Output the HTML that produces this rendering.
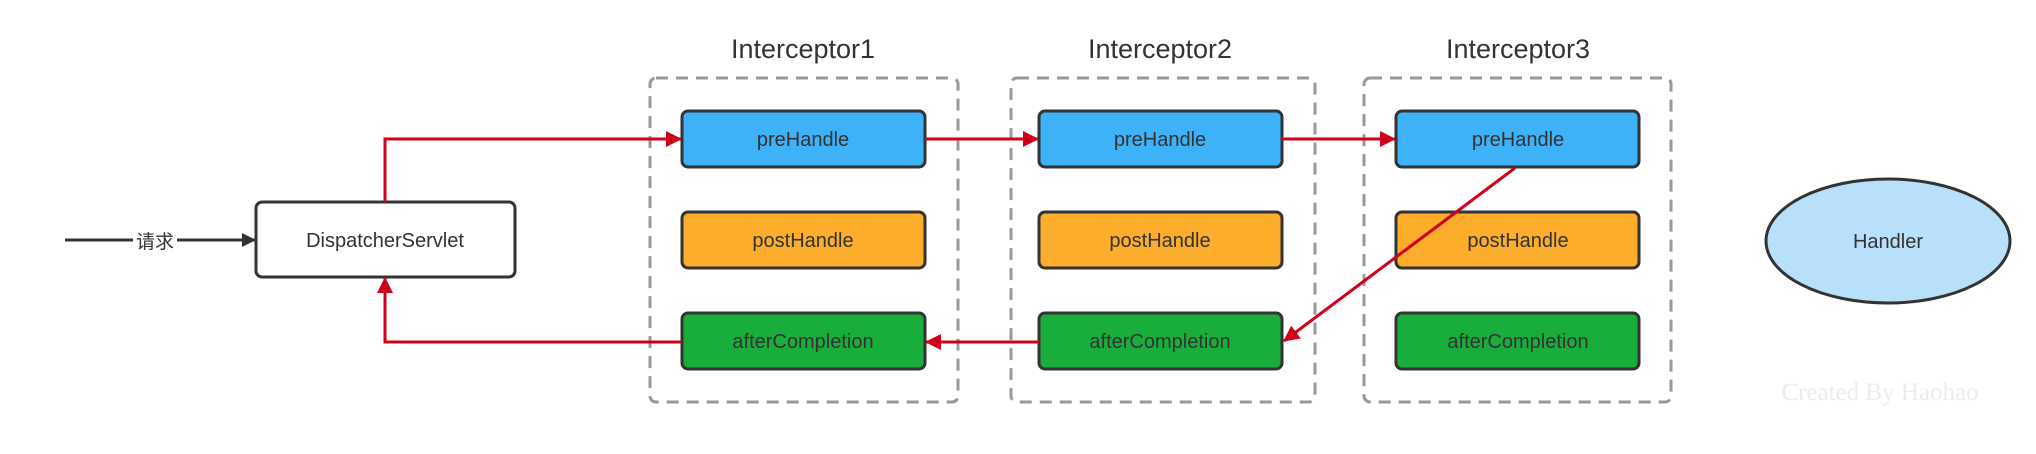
<!DOCTYPE html>
<html><head><meta charset="utf-8"><style>
html,body{margin:0;padding:0;background:#fff;}
svg{display:block;}
text{font-family:"Liberation Sans","Noto Sans CJK SC",sans-serif;}
</style></head><body>
<svg width="2036" height="454" viewBox="0 0 2036 454" xmlns="http://www.w3.org/2000/svg">
<defs>
<marker id="k" markerWidth="14" markerHeight="14" refX="13" refY="7" orient="auto" markerUnits="userSpaceOnUse"><path d="M0,0 L14,7 L0,14 z" fill="#333"/></marker>
<marker id="r2" markerWidth="16" markerHeight="16" refX="15" refY="8" orient="auto" markerUnits="userSpaceOnUse"><path d="M0,0 L16,8 L0,16 z" fill="#d0021b"/></marker>
</defs>
<g font-size="27" fill="#333" text-anchor="middle">
<text x="803" y="58">Interceptor1</text>
<text x="1160" y="58">Interceptor2</text>
<text x="1518" y="58">Interceptor3</text>
</g>
<g fill="none" stroke="#999" stroke-width="3" stroke-dasharray="12,8">
<rect x="650" y="78" width="308" height="324" rx="6"/>
<rect x="1011" y="78" width="304" height="324" rx="6"/>
<rect x="1364" y="78" width="307" height="324" rx="6"/>
</g>
<g stroke="#333" stroke-width="3">
<rect x="682" y="111" width="243" height="56" rx="6" fill="#3db2f8"/>
<rect x="1039" y="111" width="243" height="56" rx="6" fill="#3db2f8"/>
<rect x="1396" y="111" width="243" height="56" rx="6" fill="#3db2f8"/>
<rect x="682" y="212" width="243" height="56" rx="6" fill="#fdad2c"/>
<rect x="1039" y="212" width="243" height="56" rx="6" fill="#fdad2c"/>
<rect x="1396" y="212" width="243" height="56" rx="6" fill="#fdad2c"/>
<rect x="682" y="313" width="243" height="56" rx="6" fill="#19ae3c"/>
<rect x="1039" y="313" width="243" height="56" rx="6" fill="#19ae3c"/>
<rect x="1396" y="313" width="243" height="56" rx="6" fill="#19ae3c"/>
<rect x="256" y="202" width="259" height="75" rx="6" fill="#fff"/>
<ellipse cx="1888" cy="241" rx="122" ry="62" fill="#b9e0fb"/>
</g>
<g font-size="20" fill="#333" text-anchor="middle">
<text x="803" y="146">preHandle</text><text x="1160" y="146">preHandle</text><text x="1518" y="146">preHandle</text>
<text x="803" y="247">postHandle</text><text x="1160" y="247">postHandle</text><text x="1518" y="247">postHandle</text>
<text x="803" y="348">afterCompletion</text><text x="1160" y="348">afterCompletion</text><text x="1518" y="348">afterCompletion</text>
<text x="385" y="247">DispatcherServlet</text>
<text x="1888" y="248">Handler</text>
</g>
<line x1="65" y1="240" x2="255" y2="240" stroke="#333" stroke-width="3" marker-end="url(#k)"/>
<rect x="133" y="228" width="44" height="24" fill="#fff"/>
<text x="155" y="248" font-size="19" fill="#333" text-anchor="middle">请求</text>
<g fill="none" stroke="#d0021b" stroke-width="3">
<polyline points="385,202 385,139 681,139" marker-end="url(#r2)"/>
<line x1="925" y1="139" x2="1038" y2="139" marker-end="url(#r2)"/>
<line x1="1282" y1="139" x2="1395" y2="139" marker-end="url(#r2)"/>
<line x1="1515" y1="168" x2="1284" y2="341" marker-end="url(#r2)"/>
<line x1="1039" y1="342" x2="926" y2="342" marker-end="url(#r2)"/>
<polyline points="682,342 385,342 385,278" marker-end="url(#r2)"/>
</g>
<text x="1880" y="400" style="font-family:'Liberation Serif',serif" font-size="25" fill="#ececec" text-anchor="middle">Created By Haohao</text>
</svg>
</body></html>
